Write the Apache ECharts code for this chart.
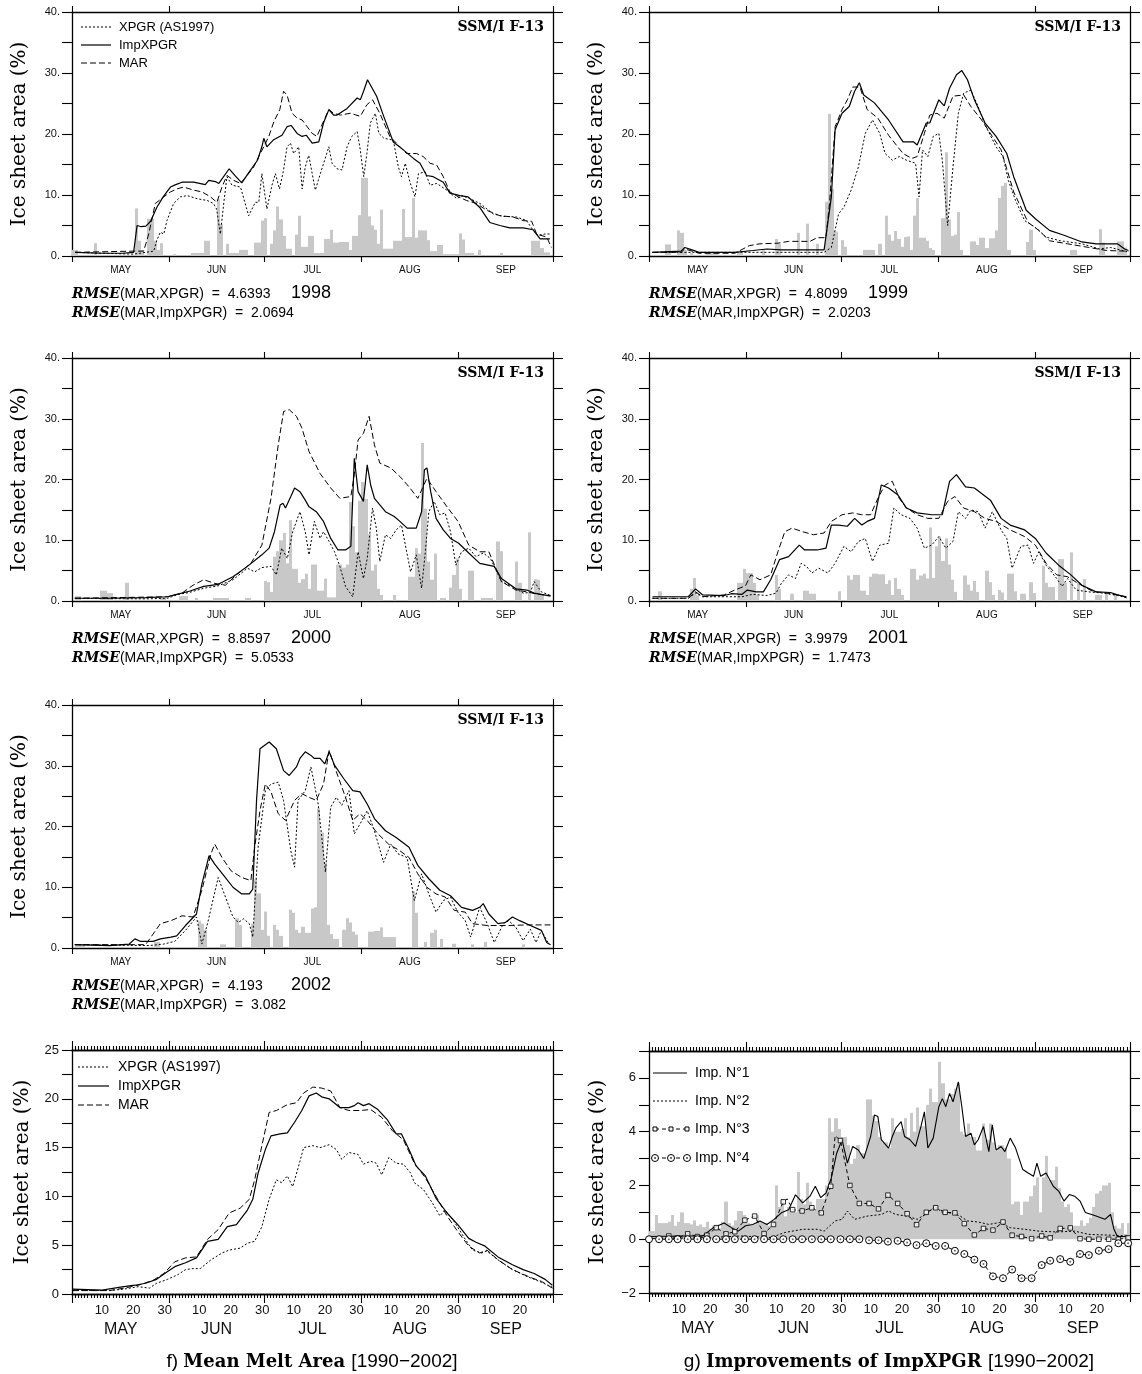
<!DOCTYPE html>
<html>
<head>
<meta charset="utf-8">
<script src="https://cdn.jsdelivr.net/npm/echarts@6/dist/echarts.min.js"></script>
<style>
html, body { margin: 0; padding: 0; background: #fff; }
#main { width: 1142px; height: 1374px; }
</style>
</head>
<body>
<div id="main"></div>
<script>
// day offsets: 0 = 1 May, 153 = 1 Oct
var MONTH_START = [0, 31, 61, 92, 123, 153];
var MONTH_NAMES = ['MAY', 'JUN', 'JUL', 'AUG', 'SEP'];
var DAY_MARKS = [[10, 20, 30], [10, 20, 30], [10, 20, 30], [10, 20, 30], [10, 20]];

// ---- 1998 ----
var imp1998 = [[1,0.6],[9,0.45],[16,0.45],[19.6,0.6],[20.7,5.0],[22,4.8],[23.5,4.9],[25,5.7],[27,8.0],[29,9.7],[31.3,11.3],[33,11.7],[35,12.1],[38.7,12.1],[42.4,11.7],[43.5,12.4],[45.6,12.2],[46.7,11.9],[50,14.3],[52,13.1],[54,12.0],[56,13.5],[59,15.7],[60.4,17.9],[61,19.3],[62,17.9],[64,19.0],[66.8,19.8],[68.4,21.2],[69.7,21.4],[71.6,20.1],[73.2,19.6],[74.5,19.8],[76.4,18.5],[78.5,18.7],[80,21.8],[81.7,24.0],[83.2,23.1],[84.3,23.1],[87.5,24.2],[90.7,25.9],[91.7,25.6],[92.8,27.1],[94,28.9],[96.9,26.2],[99,23.1],[102.2,18.7],[105.4,17.4],[108.6,16.0],[110.7,15.2],[112.8,13.2],[114.9,13.0],[118.1,12.1],[120.2,10.3],[123.4,9.9],[126,9.7],[129.8,7.9],[132.9,5.5],[136.1,5.0],[139.3,4.6],[143.5,4.6],[146.7,4.3],[148.9,2.8],[152,2.8]];
var xpgr1998 = [[1,0.6],[19.6,0.3],[26,0.8],[27,2.6],[28.1,3.9],[29.2,3.6],[30.2,5.8],[32.3,8.6],[34.5,9.7],[36.6,9.9],[39.8,9.4],[43,9.1],[45,8.6],[46,7.7],[47.2,3.6],[48.3,8.8],[49.3,13.0],[50.9,11.6],[53.6,11.3],[56.2,6.6],[58.3,8.8],[59.4,8.8],[60.4,13.5],[62,7.7],[63.6,11.6],[64.7,13.5],[66,11.0],[67.3,14.1],[68.4,17.9],[69.5,18.5],[70.5,16.8],[72.1,17.9],[73.2,11.0],[74.2,14.6],[75.3,16.5],[77.4,10.8],[79,13.5],[81.7,17.9],[82.7,15.2],[84.3,14.3],[85.9,14.1],[87.5,17.9],[89,19.6],[90.7,20.4],[91.7,17.4],[92.8,13.0],[93.8,16.8],[94.9,21.8],[96.5,23.4],[97.6,20.1],[99.2,19.3],[102.2,19.0],[103.8,14.6],[104.8,13.0],[106,15.2],[107.5,12.1],[109.1,9.7],[110.2,13.5],[112.3,13.8],[113.9,11.6],[116,11.9],[119.2,10.8],[122.4,9.4],[124,9.9],[126.6,9.4],[129.8,8.6],[134,6.9],[137.2,6.5],[141.4,6.4],[144.6,5.8],[146.7,4.2],[148.3,3.4],[150.4,3.6],[152,3.6]];
var mar1998 = [[1,0.6],[19.6,0.8],[22.8,0.8],[24.4,3.6],[26.5,8.6],[29.2,9.7],[31.3,10.5],[33.4,11.0],[35.5,11.3],[38.7,10.8],[41.4,10.5],[44,9.7],[46.1,8.8],[47.7,11.3],[49.3,13.2],[51.4,12.4],[53.6,11.9],[55.7,13.2],[57.8,14.6],[59.4,16.3],[61,17.9],[62.6,19.6],[64.2,22.0],[66.1,24.0],[67.3,27.0],[68.4,26.4],[70,23.4],[71.6,22.6],[73.2,22.3],[74.8,21.2],[76.4,20.1],[77.9,19.6],[79.5,21.5],[81.7,24.0],[83.2,23.4],[85.4,23.1],[88.5,23.4],[91.7,22.9],[93.8,24.8],[95.6,25.6],[97.9,23.4],[101.1,19.6],[103.2,18.5],[106.4,16.8],[109.6,16.8],[111.7,16.3],[113.9,15.2],[116,14.9],[118.1,13.0],[120.2,10.5],[122.9,9.7],[125.5,9.1],[128.7,8.6],[131.9,7.5],[136.1,6.6],[140.3,6.4],[143.5,5.8],[146.2,5.7],[147.8,3.6],[151,3.1],[152.5,1.4]];
var diff1998 = [[0,1.0],[1,1.0],[7,2.1],[20,7.8],[21,2.5],[22,1.0],[24,6.1],[25,6.1],[26,2.5],[27,1.0],[28,2.1],[32,0.3],[38,0.5],[39,0.5],[40,0.5],[41,0.5],[42,2.5],[43,2.5],[46,9.3],[47,5.2],[49,2.0],[50,0.5],[51,0.5],[52,0.5],[53,1.0],[54,1.0],[55,1.0],[58,2.2],[59,2.2],[60,5.8],[61,6.2],[63,2.0],[64,4.2],[65,8.1],[66,6.0],[67,3.3],[68,1.2],[69,1.2],[71,3.5],[72,6.6],[73,1.5],[74,1.5],[75,3.3],[76,3.3],[77,0.5],[78,0.5],[79,0.5],[80,2.8],[81,2.8],[82,4.3],[83,2.2],[84,2.2],[85,2.3],[86,2.3],[87,2.3],[88,1.0],[89,3.3],[90,3.3],[91,6.7],[92,12.8],[93,12.8],[94,6.5],[95,5.0],[96,4.3],[97,2.0],[98,7.6],[99,1.2],[100,1.2],[101,1.2],[102,2.5],[103,2.5],[104,2.5],[105,7.7],[106,3.1],[107,3.1],[108,9.5],[109,3.0],[110,4.2],[111,4.2],[112,4.2],[113,2.6],[114,0.8],[115,0.8],[116,1.8],[117,1.8],[118,0.3],[119,0.3],[120,0.3],[121,0.3],[122,0.3],[123,3.7],[124,2.7],[125,0.5],[126,0.5],[127,0.5],[129,1.0],[136,0.5],[146,2.5],[147,2.5],[148,2.5],[149,1.3],[150,0.6],[151,0.6]];

// ---- 1999 ----
var imp1999 = [[1.1,0.6],[10.2,0.8],[11.4,1.4],[13.7,1.0],[15.9,0.6],[27.3,0.6],[33,0.9],[37.5,1.15],[42,1.0],[49,1.0],[55.7,1.0],[58,9.7],[59.2,20.7],[61.4,23.4],[63.7,24.5],[65.4,27.0],[66.9,28.4],[68.3,26.4],[71.7,25.1],[76.2,22.3],[80.8,18.7],[84.2,18.7],[85.3,18.2],[88.2,21.8],[89.3,21.8],[92.2,25.6],[93.9,24.6],[95.6,27.5],[97.8,29.7],[99.5,30.4],[101.3,28.9],[103.5,25.6],[106.9,21.8],[110.4,19.6],[113.8,16.8],[116,13.0],[120,7.5],[122.9,6.1],[127.4,4.2],[132,3.4],[137.7,2.3],[142.2,2.0],[149,2.0],[151.3,1.15],[152.5,0.9]];
var xpgr1999 = [[1.1,0.6],[12.5,0.6],[55.7,0.6],[58,1.4],[60.3,6.9],[62,8.0],[64.3,10.8],[66.6,14.6],[68.8,20.1],[71.1,22.3],[73.4,20.1],[75.1,16.8],[77.4,15.7],[79.6,16.3],[81.9,15.7],[84.8,15.2],[85.9,9.7],[87,17.4],[88.7,16.3],[90.4,19.6],[92.2,20.1],[93.3,15.7],[95,5.0],[96.7,14.6],[98.4,23.4],[100.1,26.7],[102.4,27.2],[104.7,24.5],[106.9,21.5],[110.4,17.9],[112.6,16.3],[114.3,12.4],[116.6,9.1],[119.5,5.8],[122.9,4.7],[126.3,3.1],[130.8,2.5],[137.7,2.0],[143.3,1.15],[146.8,1.4],[151.3,0.8],[152.5,0.7]];
var mar1999 = [[1.1,0.6],[10.2,0.6],[11.4,1.15],[15.9,0.45],[27.3,0.45],[31.9,1.7],[35.3,2.0],[41,2.1],[44.4,2.4],[51.2,2.4],[53.5,3.0],[56.3,3.0],[57.5,9.1],[59.2,21.2],[61.4,24.0],[63.1,25.6],[64.8,27.7],[67.1,27.7],[69.4,24.0],[72.8,22.6],[76.2,19.8],[80.8,16.8],[83.6,16.0],[85.3,16.3],[87.6,20.1],[89.3,23.1],[91.6,23.4],[93.9,22.6],[96.7,26.2],[100.1,26.4],[102.4,24.5],[105.8,22.3],[109.2,19.6],[112,17.4],[116,10.5],[120.6,5.5],[124,4.2],[127.4,2.5],[133.1,2.0],[139.9,1.4],[145.6,0.9],[151.3,0.8],[152.5,0.7]];
var diff1999 = [[5,1.9],[6,1.9],[9,4.2],[10,3.8],[11,1.0],[13,0.5],[18,0.5],[19,0.5],[20,0.5],[21,0.5],[28,0.5],[29,0.5],[36,1.0],[40,2.8],[41,2.0],[47,3.8],[50,5.3],[53,2.0],[56,8.9],[57,23.3],[58,11.0],[59,4.0],[61,2.6],[62,1.5],[68,1.0],[69,1.0],[70,1.0],[71,1.0],[73,2.0],[75,6.6],[76,3.5],[77,2.5],[78,4.1],[79,2.8],[80,1.5],[81,3.1],[82,3.2],[83,1.0],[84,6.6],[85,9.5],[86,3.0],[87,3.0],[88,2.5],[89,1.3],[90,1.0],[93,6.2],[94,17.0],[95,6.0],[96,3.3],[97,3.5],[98,7.2],[99,1.0],[102,2.4],[103,2.4],[104,1.8],[105,3.0],[106,3.0],[107,1.3],[108,2.9],[109,2.9],[110,4.2],[111,9.5],[112,11.5],[113,12.0],[114,1.0],[120,2.3],[121,4.3],[122,1.0],[134,1.0],[135,1.0],[143,4.4],[144,2.2],[149,2.4],[150,2.4],[151,1.4]];

// ---- 2000 ----
var imp2000 = [[0.9,0.45],[11.9,0.45],[23.4,0.55],[30.4,0.7],[32.7,1.0],[37.3,1.6],[41.9,2.4],[46.5,2.75],[51.2,4.0],[55.8,5.7],[60.4,7.6],[62.7,8.7],[64.4,11.4],[66.2,15.8],[67.1,16.1],[67.9,15.3],[69.6,17.2],[70.8,18.6],[72.5,18.0],[74.2,16.6],[75.4,15.5],[77.7,14.7],[80,13.1],[82.3,10.3],[84.6,8.4],[87,8.4],[88.7,9.0],[89.8,23.5],[91,18.0],[92.7,16.4],[93.9,22.4],[95,19.1],[96.2,16.9],[99.7,14.7],[102.5,13.9],[104.3,13.1],[106.6,12.0],[109.5,12.0],[111.2,14.7],[112.1,21.6],[112.9,21.9],[114.1,18.0],[115.8,13.6],[118.1,11.7],[120.4,10.3],[123,9.5],[126.2,7.9],[129.7,6.2],[134.3,5.7],[136.6,3.7],[141.2,2.0],[144.7,1.8],[147,1.3],[149.3,1.1],[152.2,0.8]];
var xpgr2000 = [[0.9,0.45],[23.4,0.35],[30.4,0.45],[33.8,1.1],[37.3,1.4],[41.9,2.1],[46.5,2.5],[51.2,3.5],[55.8,5.4],[58.1,4.8],[60.4,5.5],[63.3,5.7],[65,4.3],[66.7,8.7],[68.5,7.0],[70.2,11.4],[72.5,14.7],[74.2,11.4],[75.4,7.6],[77.1,13.1],[78.9,10.3],[80,11.4],[81.8,9.8],[83.5,8.1],[85.2,5.7],[87,2.4],[89.3,0.7],[91,8.1],[92.7,3.7],[93.9,7.0],[95.6,15.3],[96.8,12.0],[97.9,6.5],[99.7,10.9],[101.4,10.3],[103.1,11.7],[104.8,12.5],[107.7,4.8],[109.5,7.6],[111.2,2.1],[112.4,8.1],[113.5,14.7],[115.2,16.4],[117,14.2],[118.7,14.5],[120.4,11.4],[122.1,5.9],[123.9,8.1],[126.2,8.7],[128.5,7.3],[130.8,7.9],[133.1,7.0],[136.6,3.2],[140,2.4],[143.5,1.3],[145.8,1.4],[147,3.2],[149.3,1.5],[152.2,0.9]];
var mar2000 = [[0.9,0.45],[30.4,0.7],[35,1.3],[38.5,2.6],[41.9,3.5],[45.4,2.9],[48.8,2.6],[52.3,4.3],[56.9,6.2],[60.4,9.2],[63.3,16.9],[65.6,25.7],[67.3,31.2],[69.1,31.5],[71.4,30.4],[73.1,28.5],[75.4,24.6],[78.9,21.0],[82.3,18.6],[85.2,16.9],[88.7,17.2],[89.8,20.8],[91,26.5],[92.7,27.6],[94.5,30.4],[96.2,25.7],[97.9,22.7],[101.4,21.9],[104.3,20.5],[107.2,18.8],[110,16.9],[112.9,20.2],[115.8,18.0],[119.3,15.5],[122.8,13.1],[126.2,9.2],[129.7,8.1],[132.6,8.1],[136.6,3.2],[141.2,1.8],[144.7,1.5],[148.2,1.1],[152.2,0.9]];
var diff2000 = [[1,0.8],[2,0.8],[9,1.7],[10,1.7],[11,1.3],[12,1.3],[17,3.0],[28,0.5],[29,0.5],[34,0.8],[35,0.8],[36,0.8],[39,0.5],[45,0.5],[46,0.5],[47,0.5],[48,0.5],[49,0.5],[55,0.5],[56,0.5],[61,3.3],[62,3.1],[63,1.5],[64,7.3],[65,8.2],[66,10.0],[67,11.2],[68,6.2],[69,13.3],[70,5.3],[71,5.3],[72,3.0],[73,3.6],[74,4.5],[75,2.0],[76,6.0],[77,6.0],[78,1.7],[79,1.7],[80,3.7],[81,0.6],[82,0.6],[83,0.6],[84,6.0],[85,6.0],[86,5.5],[87,6.0],[88,16.3],[89,12.3],[90,8.0],[91,16.5],[92,19.6],[93,16.8],[94,11.0],[95,5.0],[96,6.0],[97,2.0],[98,1.0],[102,1.0],[107,4.0],[108,4.0],[109,8.7],[110,7.8],[111,26.0],[112,15.2],[113,6.5],[114,3.5],[115,7.8],[117,0.5],[118,0.5],[120,2.2],[121,4.3],[122,7.0],[123,2.0],[126,5.0],[127,5.0],[130,0.5],[131,0.5],[132,0.5],[133,0.5],[135,9.8],[136,8.2],[141,6.5],[142,3.0],[145,11.3],[147,3.6],[148,3.5],[149,1.0]];

// ---- 2001 ----
var imp2001 = [[1.1,0.7],[12.5,0.7],[14.8,2.0],[17.1,1.0],[23.9,0.9],[26.2,1.2],[29.6,1.1],[31.3,1.8],[34.1,1.5],[36.4,1.5],[38.7,3.5],[41.5,6.8],[44.4,7.3],[47.8,9.2],[49.5,8.4],[53.5,8.4],[56.3,8.7],[58,12.5],[60.3,12.5],[63.1,12.3],[65.4,13.6],[67.7,12.5],[69.4,13.1],[71.7,13.6],[73.9,19.1],[76.2,18.6],[79.1,17.5],[81.9,15.3],[85.3,14.5],[89.9,14.2],[93.3,14.2],[95.6,19.7],[97.8,20.8],[100.7,18.8],[103.5,18.6],[105.8,17.7],[108.6,16.6],[112,13.6],[114.9,12.5],[119.5,11.7],[122.9,10.3],[126.3,7.9],[130.3,5.9],[134.2,4.3],[137.7,2.6],[142.2,1.5],[146.8,1.4],[149,1.0],[151.9,0.7]];
var xpgr2001 = [[1.1,0.45],[12.5,0.45],[14.8,1.3],[17.1,0.7],[29.6,0.7],[33,1.1],[37.5,0.9],[40.4,1.3],[42.1,2.9],[44.4,4.3],[46.6,3.7],[48.4,6.2],[50.1,5.7],[51.8,4.6],[54,5.4],[56.9,4.6],[59.2,6.2],[62,9.0],[64.3,8.1],[66.6,9.8],[68.8,10.3],[71.1,6.5],[73.4,9.2],[76.2,9.5],[77.9,15.3],[80.2,14.2],[83,13.6],[85.3,12.0],[87.6,8.7],[89.9,9.2],[92.2,10.6],[94.4,8.7],[96.7,9.8],[98.4,14.7],[100.7,13.6],[102.4,15.0],[104.7,14.7],[106.9,12.0],[109.2,14.7],[112,11.7],[113.8,10.3],[115.5,5.4],[118.3,9.0],[120.6,9.2],[122.3,6.2],[124,8.1],[126.3,5.9],[129.7,3.7],[131.4,2.4],[133.1,3.7],[135.9,1.8],[139.9,1.5],[144.5,1.3],[149,0.9],[151.9,0.55]];
var mar2001 = [[1.1,0.45],[12.5,0.45],[14.8,1.5],[17.1,0.7],[23.9,1.0],[27.3,1.8],[30.7,2.5],[32.4,4.3],[35.3,3.5],[38.7,4.3],[41,8.1],[43.2,11.4],[45.5,12.0],[48.9,11.4],[52.3,10.9],[55.7,11.2],[58,13.1],[61.4,14.2],[64.8,14.5],[67.7,14.2],[70.5,14.2],[72.8,16.9],[75.1,19.1],[77.4,19.7],[79.6,16.9],[81.9,15.3],[85.3,14.2],[88.7,13.6],[92.2,13.6],[95,16.4],[97.3,17.2],[100.1,15.3],[103.5,14.7],[106.9,13.6],[110.4,13.1],[114.9,11.7],[119.5,10.6],[122.9,9.2],[126.3,6.2],[129.7,4.3],[133.1,4.0],[136.5,2.9],[141.1,1.6],[145.6,1.3],[150.2,0.9],[151.9,0.5]];
var diff2001 = [[3,1.6],[13,2.0],[14,3.8],[15,1.0],[28,3.0],[29,3.0],[30,5.3],[31,4.6],[32,4.6],[33,3.0],[34,1.0],[40,4.3],[41,2.0],[45,1.2],[49,1.7],[50,1.7],[51,1.2],[52,1.2],[60,1.6],[63,4.2],[64,3.5],[65,4.3],[66,4.3],[67,1.7],[68,1.7],[69,1.0],[70,4.0],[71,4.5],[72,4.5],[73,4.4],[74,4.4],[75,2.8],[76,3.4],[77,1.0],[78,3.8],[79,2.0],[80,1.0],[83,5.3],[84,5.3],[85,3.5],[86,4.2],[87,4.5],[88,3.7],[89,12.1],[90,3.8],[91,9.0],[92,10.6],[93,6.6],[94,10.3],[95,6.0],[96,3.5],[97,1.5],[100,4.2],[101,2.7],[102,1.7],[103,3.3],[104,1.5],[107,5.0],[108,3.1],[109,1.0],[111,1.8],[112,1.4],[114,4.5],[115,4.5],[116,1.6],[118,1.2],[119,1.2],[121,3.1],[122,1.3],[125,5.8],[126,3.0],[127,2.3],[128,2.3],[130,6.9],[131,6.9],[132,3.0],[134,8.0],[136,3.0],[138,3.6],[142,1.0],[143,1.0],[145,1.3],[148,1.0]];

// ---- 2002 ----
var imp2002 = [[0.9,0.55],[11.9,0.4],[18.2,0.65],[20,1.5],[21.7,1.1],[25.8,1.1],[28.1,1.5],[31.5,1.8],[33.3,2.0],[36.1,3.7],[39.6,5.6],[41.3,10.5],[43.6,15.2],[45.4,13.8],[48.3,11.9],[51.2,10.0],[54,8.9],[56.4,8.9],[57.5,9.7],[58.7,24.3],[59.8,32.8],[62.7,33.9],[65,32.8],[67.3,29.2],[69.1,28.4],[71.4,29.8],[72.5,31.2],[74.2,32.3],[76,31.7],[77.1,31.2],[78.9,31.2],[80.4,30.3],[81.8,32.3],[83.5,30.1],[86.4,27.9],[89.3,25.9],[91.6,25.7],[93.9,23.7],[96.2,21.3],[99.7,19.3],[103.1,18.2],[107.2,16.6],[110,13.6],[113.5,11.4],[117,9.5],[120.4,8.6],[123.9,6.7],[127.4,6.2],[129.7,6.7],[130.8,7.3],[132.6,5.6],[135.5,4.0],[137.8,4.2],[140.1,5.1],[142.4,4.5],[145.8,3.7],[149.3,2.9],[151,0.9],[152.2,0.55]];
var xpgr2002 = [[0.9,0.55],[24.6,0.4],[29.2,0.65],[32.7,1.1],[36.1,2.9],[39.6,5.1],[41.3,0.65],[43.1,4.0],[46.5,11.6],[48.8,8.4],[51.2,5.1],[52.9,4.2],[54.6,4.8],[56.4,4.0],[57.5,1.8],[59.2,16.6],[61.5,25.9],[63.3,27.0],[65.6,27.3],[67.3,24.3],[69.6,16.0],[70.8,13.3],[71.9,24.3],[74.2,25.9],[76,29.8],[77.1,27.0],[78.3,23.7],[79.4,18.5],[80.6,12.5],[82.3,23.2],[84.1,24.8],[85.8,23.5],[88.1,25.9],[89.8,18.8],[91.6,20.4],[93.9,22.6],[96.2,19.3],[99.1,14.1],[101.4,17.1],[103.7,15.5],[106.6,14.9],[108.9,7.8],[111.2,12.2],[113.5,8.9],[115.8,5.9],[118.1,7.8],[120.4,8.4],[122.7,5.9],[125.1,4.5],[126.8,1.8],[129.7,6.7],[132.1,4.0],[134.3,0.9],[137.2,4.0],[138.9,4.5],[141.2,3.4],[143.5,1.2],[145.8,3.1],[147.6,0.9],[149.3,2.9],[151.4,0.9]];
var mar2002 = [[0.9,0.55],[23.4,0.55],[25.8,2.3],[28.1,4.0],[31.5,4.5],[35,5.3],[38.5,5.1],[41.3,9.5],[44.2,15.5],[45.4,17.1],[47.7,14.9],[50.6,12.7],[54,11.6],[56.9,11.1],[58.1,16.6],[59.8,22.6],[61.5,27.0],[63.3,25.7],[65.6,22.1],[67.9,21.0],[70.8,24.3],[73.1,25.4],[75.4,24.8],[77.7,24.3],[80,27.0],[81.8,32.5],[84.1,29.0],[87,24.8],[89.3,21.0],[91.6,22.1],[93.9,21.0],[97.3,18.8],[100.7,17.1],[104.3,16.0],[107.2,14.9],[110,12.2],[112.9,10.0],[115.8,8.9],[118.7,8.4],[121.6,6.2],[125.1,5.9],[127.4,4.0],[132.1,3.7],[138.9,3.7],[144.7,3.8],[152.2,3.8]];
var diff2002 = [[1,0.6],[2,0.6],[3,0.6],[26,1.0],[27,1.0],[40,4.5],[41,4.0],[42,3.0],[47,0.6],[48,0.6],[52,4.9],[53,3.8],[57,4.0],[58,11.3],[59,9.0],[60,3.0],[61,6.0],[62,2.0],[64,3.8],[65,3.0],[66,2.0],[69,6.3],[70,5.8],[71,3.0],[72,2.5],[73,3.5],[74,2.5],[75,2.5],[76,6.5],[77,6.7],[78,23.0],[79,19.0],[80,14.0],[81,3.8],[82,2.3],[83,1.5],[84,1.5],[86,3.0],[87,4.9],[88,4.2],[89,2.7],[90,2.2],[94,2.7],[95,2.7],[96,2.8],[97,2.8],[98,3.4],[99,1.8],[100,1.8],[101,1.8],[102,1.8],[108,9.3],[109,5.8],[112,1.0],[114,2.5],[115,3.0],[117,1.5],[121,0.7],[127,0.6],[131,1.0],[143,0.6]];

// ---- f) mean 1990-2002 ----
var impMean = [[0.3,0.5],[9.6,0.4],[15.4,0.7],[20,0.9],[23.4,1.1],[26.9,1.5],[30.4,2.3],[32.7,2.8],[36.1,3.2],[39.6,3.7],[43.1,5.4],[46.5,5.6],[49.4,6.9],[52.3,7.1],[55.8,8.6],[57.5,9.7],[59.2,12.4],[61.5,14.8],[63.3,16.2],[66.2,16.4],[68.5,16.5],[70.8,17.6],[73.1,18.8],[75.4,20.3],[77.7,20.6],[79.4,20.2],[81.8,20.0],[85.2,19.1],[88.1,19.1],[89.8,19.3],[91,19.6],[92.7,19.3],[94.5,19.5],[97.3,18.9],[100.2,17.9],[103.1,16.4],[104.8,16.4],[107.2,14.8],[109.5,13.1],[112.4,12.1],[115.8,9.8],[119.3,8.3],[122.7,7.1],[126.2,5.7],[128.5,5.3],[131.4,4.9],[135.5,3.8],[140.1,3.0],[143.5,2.5],[147,2.1],[150.5,1.5],[152.8,0.9]];
var xpgrMean = [[0.3,0.4],[11.9,0.35],[16.5,0.5],[21.1,0.75],[24.6,0.6],[26.9,1.1],[30.4,1.5],[33.8,2.0],[36.1,2.5],[38.5,2.6],[40.8,2.6],[44.2,3.5],[47.7,4.2],[50,4.5],[53.5,4.7],[55.8,5.2],[58.1,5.4],[60.4,6.9],[62.7,9.7],[65,11.7],[66.7,11.4],[68.5,12.1],[70.2,11.0],[71.9,12.9],[73.7,15.0],[76.6,15.2],[78.9,15.0],[81.8,15.3],[84.1,14.8],[85.8,13.8],[88.1,14.5],[91,14.3],[92.7,13.3],[95,13.6],[96.8,13.4],[98.5,12.2],[100.8,14.0],[103.1,13.4],[105.4,13.3],[107.7,12.4],[108.9,11.4],[111.8,10.7],[114.7,9.3],[117,8.0],[118.7,8.6],[121.6,7.4],[125.1,5.6],[127.4,4.5],[130.3,4.2],[132,4.4],[135.5,3.5],[140.1,2.5],[144.7,1.8],[149.3,1.2],[152.8,0.7]];
var marMean = [[0.3,0.35],[11.9,0.35],[16.5,0.6],[21.1,0.9],[25.8,1.4],[29.2,2.1],[32.7,3.3],[36.1,3.7],[39.6,3.8],[43.1,5.6],[46.5,6.6],[50,8.3],[53.5,8.8],[56.4,9.7],[58.1,11.7],[60.4,15.2],[62.7,18.6],[65,18.8],[68.5,19.4],[71.4,19.6],[73.7,20.6],[76.6,21.2],[79.4,21.1],[82.3,20.8],[85.2,19.1],[88.1,18.8],[91.6,18.8],[95,18.9],[98.5,18.1],[102,16.7],[105.4,15.8],[108.9,13.4],[112.4,11.9],[115.8,10.0],[119.3,8.0],[122.7,6.4],[126.2,4.9],[129.7,4.2],[132,4.5],[135.5,3.5],[140.1,2.5],[145.8,1.7],[149.3,1.3],[152.8,0.6]];

// ---- g) improvements 1990-2002 ----
var impDiffMean = [0.3,0.3,0.9,0.6,0.6,0.6,0.65,0.9,0.5,0.65,1.0,0.6,0.6,0.55,0.7,0.5,0.55,0.45,0.65,0.4,0.5,0.5,0.4,0.65,1.4,0.6,0.5,0.7,1.05,1.05,0.9,0.6,0.55,0.55,0.9,0.65,0.6,0.6,0.5,0.7,2.0,1.2,1.5,0.85,1.2,1.0,1.0,2.5,1.5,1.3,2.1,1.4,1.1,1.5,1.5,1.5,2.0,4.5,4.0,4.5,4.1,3.8,3.8,3.5,2.8,3.0,3.5,3.2,3.2,5.2,5.2,4.6,4.4,3.8,3.6,3.6,3.4,4.5,4.0,4.0,4.1,4.5,3.8,4.7,4.0,4.9,4.2,4.2,5.0,5.6,5.1,5.1,6.6,5.8,5.2,5.2,5.4,5.6,5.8,4.0,3.9,4.3,3.8,3.8,3.3,3.3,4.3,3.7,4.3,3.6,3.3,3.5,3.5,3.4,3.0,1.3,1.4,1.4,0.9,1.4,1.4,1.6,2.0,2.3,1.0,2.3,3.1,2.2,2.2,2.7,1.9,1.4,1.2,1.3,1.0,0.5,0.5,0.7,0.5,0.6,0.8,1.2,1.7,1.8,2.0,2.0,2.1,1.0,0.5,0.4,0.6,0.2,0.6];
var imp1 = [[0,0.1],[10.2,0.12],[17.1,0.12],[20.5,0.43],[23.9,0.6],[26.2,0.43],[28.4,0.3],[30.7,0.5],[33,0.55],[35.3,0.68],[37.5,0.55],[39.8,0.74],[42.1,0.98],[44.4,1.1],[46.6,1.65],[48.9,1.35],[51.2,1.6],[52.9,1.97],[54.6,1.55],[56.3,1.72],[58,2.28],[59.7,3.2],[61.4,3.7],[63.1,2.83],[64.8,3.45],[66.6,3.32],[68.3,3.0],[70.5,3.82],[71.7,4.62],[72.8,4.56],[73.9,3.7],[76.2,3.39],[77.4,3.82],[78.5,4.13],[80.2,4.37],[81.3,3.82],[83,3.7],[84.8,3.45],[86.5,4.19],[87.6,4.74],[88.7,3.39],[90.4,3.76],[92.2,4.93],[93.3,5.23],[94.4,4.93],[95.6,5.42],[96.7,5.11],[98.4,5.85],[99.5,4.93],[100.7,3.82],[102.4,3.94],[103.5,3.51],[104.7,3.7],[106.4,4.19],[108.1,3.26],[109.2,4.25],[110.4,3.32],[112,3.45],[113.2,3.26],[114.9,3.76],[116.6,3.39],[118.9,2.59],[120.6,2.46],[122.3,2.34],[123.4,2.83],[124.6,2.34],[126.3,2.46],[128.6,1.97],[130.3,1.79],[132,1.42],[133.7,1.66],[135.4,1.6],[137.1,1.42],[138.8,0.99],[142.2,0.86],[145,0.74],[146.8,0.92],[147.9,0.37],[149,0.1],[152.5,0.1]];
var imp2 = [[0,0.02],[18.2,0.06],[29.6,0.12],[38.7,0.06],[43.2,0.25],[48.9,0.37],[53.5,0.37],[55.7,0.3],[59.2,0.68],[61.4,0.74],[63.1,1.05],[65.4,0.74],[69.4,0.86],[73.9,0.92],[76.2,1.05],[78.5,0.92],[81.9,0.86],[85.3,0.74],[88.7,0.98],[91,1.23],[93.3,0.98],[96.7,0.98],[99,0.86],[101.3,0.68],[104.7,0.64],[108.1,0.55],[111.5,0.62],[114.9,0.43],[119.5,0.37],[124,0.3],[129.7,0.27],[135.4,0.3],[139.9,0.18],[146.8,0.15],[152.4,0.12]];
var imp3 = [[3.2,0.0],[6.3,0.12],[9.1,0.05],[12.3,0.2],[15.4,0.1],[18.4,0.15],[21.4,0.43],[24.5,0.2],[27.3,0.28],[30.5,0.71],[33.6,0.86],[36.6,0.21],[39.6,0.55],[42.7,1.39],[45.7,1.1],[48.7,1.05],[51.8,1.17],[54.8,0.98],[57.8,1.97],[60.9,3.67],[63.9,2.0],[66.9,1.33],[70,1.33],[73,1.13],[76,1.64],[79.1,1.33],[82.1,0.95],[85.1,0.54],[88.2,1.0],[91.2,1.17],[94.2,1.0],[97.3,0.98],[100.3,0.58],[103.5,0.16],[106.4,0.4],[109.4,0.34],[112.6,0.64],[115.5,0.15],[118.5,0.1],[121.7,0.02],[124.9,0.12],[127.6,0.05],[130.8,0.4],[134,0.42],[137.1,0.02],[139.9,0.0],[143.1,0.0],[146.2,0.0],[149.3,0.0],[152.4,0.05]];
var imp3Peaks = [[44,1.5],[59.2,3.85]];
var imp4 = [[3.2,0],[6.3,0],[9.1,0],[12.3,0],[15.4,0],[18.4,0],[21.4,0],[24.5,0],[27.3,0],[30.5,0],[33.6,0],[36.6,0],[39.6,0],[42.7,0],[45.7,0],[48.7,0],[51.8,0],[54.8,0],[57.8,0],[60.9,0],[63.9,0],[66.9,0],[70,-0.04],[73,-0.04],[76,-0.09],[79.1,-0.06],[82.1,-0.12],[85.1,-0.22],[88.2,-0.15],[91.2,-0.25],[94.2,-0.25],[97.3,-0.43],[100.3,-0.55],[103.5,-0.76],[106.4,-0.92],[109.4,-1.38],[112.6,-1.45],[115.5,-1.13],[118.5,-1.45],[121.7,-1.45],[124.9,-0.96],[127.6,-0.8],[130.8,-0.74],[134,-0.84],[137.1,-0.55],[139.9,-0.59],[143.1,-0.43],[146.2,-0.37],[149.3,-0.15],[152.4,-0.15]];

var SANS = '"Liberation Sans", Arial, sans-serif';
var SERIF = '"DejaVu Serif", serif';
var BAR_GREY = '#c8c8c8';
var DOTTED = [2, 2];
var DASHED = [6, 3];

var MID = [];
for( var m = 0; m < 5; m++ ){
	MID.push( (MONTH_START[m] + MONTH_START[m + 1]) / 2 );
}
var monthName = function(v){
	for( var k = 0; k < 5; k++ ){
		if( Math.abs( v - MID[k] ) < 0.01 ) return MONTH_NAMES[k];
	}
	return '';
};
// positions of the 10 / 20 / 30 day labels
var dayLabelPos = [], dayLabelText = {};
for( m = 0; m < 5; m++ ){
	for( var j = 0; j < DAY_MARKS[m].length; j++ ){
		var pos = MONTH_START[m] + DAY_MARKS[m][j] - 0.5;
		dayLabelPos.push( pos );
		dayLabelText[Math.round( pos * 2 )] = String( DAY_MARKS[m][j] );
	}
}

var grids = [], xAxes = [], yAxes = [], series = [], graphics = [];
var AXIS_LINE = {show:true, onZero:false, lineStyle:{color:'#000', width:1.3}};

var addGrid = function(left, top, height){
	grids.push( {left:left, top:top, width:481, height:height, outerBoundsMode:'none', containLabel:false} );
	return grids.length - 1;
};

var xAxis = function(gi, position, tick, label){
	var ax = {
		type:'value', gridIndex:gi, position:position, min:0, max:153,
		axisLine:AXIS_LINE,
		axisTick:{show:true, length:tick.length, lineStyle:{color:'#000', width:1.1}},
		axisLabel:{show:false},
		splitLine:{show:false}
	};
	if( tick.custom ) ax.axisTick.customValues = tick.custom;
	else ax.interval = 1;
	if( label ) ax.axisLabel = label;
	xAxes.push( ax );
	return xAxes.length - 1;
};

var yAxis = function(gi, position, min, max, interval, label){
	yAxes.push( {
		type:'value', gridIndex:gi, position:position, min:min, max:max, interval:interval,
		axisLine:AXIS_LINE,
		axisTick:{show:true, length:10, lineStyle:{color:'#000', width:1.1}},
		axisLabel:label || {show:false},
		splitLine:{show:false}
	} );
	return yAxes.length - 1;
};

var lineSeries = function(xi, yi, data, dash, width, z){
	return {
		type:'line', xAxisIndex:xi, yAxisIndex:yi, data:data, symbol:'none', silent:true,
		animation:false, z:z || 3,
		lineStyle:{color:'#000', width:width || 1, type:dash || 'solid'}
	};
};

// one grey block per day, from the start of the day to the start of the next;
// edges are snapped to whole pixels so neighbouring days join without seams
var barSeries = function(xi, yi, data){
	return {
		type:'custom', xAxisIndex:xi, yAxisIndex:yi, data:data, silent:true, animation:false, z:1,
		renderItem:function(params, api){
			var day = api.value( 0 );
			var p0 = api.coord( [day, 0] );
			var p1 = api.coord( [day + 1, api.value( 1 )] );
			var x0 = Math.round( p0[0] ), x1 = Math.round( p1[0] );
			return {type:'rect', shape:{x:x0, y:p1[1], width:x1 - x0, height:p0[1] - p1[1]},
				style:{fill:BAR_GREY}};
		}
	};
};

var text = function(x, y, str, font, align, extra){
	var el = {type:'text', x:x, y:y, silent:true, style:{text:str, font:font, fill:'#000',
		textAlign:align || 'left', textVerticalAlign:'middle'}};
	if( extra ) for( var k in extra ) el.style[k] = extra[k];
	return el;
};

var yName = function(x, y){
	var el = text( x, y, 'Ice sheet area (%)', '20px ' + SERIF, 'center' );
	el.rotation = Math.PI / 2;
	return el;
};

var legendLine = function(x1, x2, y, dash, width){
	return {type:'line', silent:true, shape:{x1:x1, y1:y, x2:x2, y2:y},
		style:{stroke:'#000', lineWidth:width || 1, lineDash:dash || null}};
};

// ---------- yearly panels ----------
var yearPanels = [
	{left:72, top:12, height:244, year:'1998', rmse:['4.6393', '2.0694'], imp:imp1998, xpgr:xpgr1998, mar:mar1998, diff:diff1998, legend:true},
	{left:649, top:12, height:244, year:'1999', rmse:['4.8099', '2.0203'], imp:imp1999, xpgr:xpgr1999, mar:mar1999, diff:diff1999},
	{left:72, top:358, height:243, year:'2000', rmse:['8.8597', '5.0533'], imp:imp2000, xpgr:xpgr2000, mar:mar2000, diff:diff2000},
	{left:649, top:358, height:243, year:'2001', rmse:['3.9979', '1.7473'], imp:imp2001, xpgr:xpgr2001, mar:mar2001, diff:diff2001},
	{left:72, top:705, height:243, year:'2002', rmse:['4.193', '3.082'], imp:imp2002, xpgr:xpgr2002, mar:mar2002, diff:diff2002}
];

var rmseRich = {
	i:{fontFamily:SERIF, fontStyle:'italic', fontWeight:'bold', fontSize:14, fill:'#000'},
	n:{fontFamily:SANS, fontSize:14, fill:'#000'}
};

yearPanels.forEach( function(p){
	var gi = addGrid( p.left, p.top, p.height );
	var xi = xAxis( gi, 'bottom', {custom:MONTH_START, length:6}, {
		show:true, customValues:MID, formatter:monthName, fontSize:10, fontFamily:SANS, color:'#111', margin:9
	} );
	xAxis( gi, 'top', {custom:MONTH_START, length:6} );
	var yi = yAxis( gi, 'left', 0, 40, 5, {
		show:true, fontSize:11, fontFamily:SANS, color:'#111', margin:12,
		formatter:function(v){ return v % 10 === 0 ? v + '.' : ''; }
	} );
	yAxis( gi, 'right', 0, 40, 5 );

	series.push( barSeries( xi, yi, p.diff ) );
	series.push( lineSeries( xi, yi, p.xpgr, DOTTED, 1 ) );
	series.push( lineSeries( xi, yi, p.mar, DASHED, 1 ) );
	series.push( lineSeries( xi, yi, p.imp, 'solid', 1.2, 4 ) );

	var bottom = p.top + p.height;
	graphics.push( yName( p.left - 52, p.top + p.height / 2 ) );
	graphics.push( text( p.left + 472, p.top + 15, 'SSM/I F-13', 'bold 14px ' + SERIF, 'right' ) );
	graphics.push( text( p.left, bottom + 38, '{i|RMSE}{n|(MAR,XPGR)  =  ' + p.rmse[0] + '}', '14px ' + SANS, 'left', {rich:rmseRich} ) );
	graphics.push( text( p.left, bottom + 57, '{i|RMSE}{n|(MAR,ImpXPGR)  =  ' + p.rmse[1] + '}', '14px ' + SANS, 'left', {rich:rmseRich} ) );
	graphics.push( text( p.left + 239, bottom + 37, p.year, '18px ' + SANS, 'center' ) );

	if( p.legend ){
		var ly = [p.top + 15, p.top + 33, p.top + 51];
		graphics.push( legendLine( p.left + 9, p.left + 39, ly[0], DOTTED ) );
		graphics.push( legendLine( p.left + 9, p.left + 39, ly[1], null, 1.2 ) );
		graphics.push( legendLine( p.left + 9, p.left + 39, ly[2], DASHED ) );
		graphics.push( text( p.left + 47, ly[0], 'XPGR (AS1997)', '13px ' + SANS ) );
		graphics.push( text( p.left + 47, ly[1], 'ImpXPGR', '13px ' + SANS ) );
		graphics.push( text( p.left + 47, ly[2], 'MAR', '13px ' + SANS ) );
	}
} );

// ---------- f) and g) panels: daily ticks + month ticks ----------
var dailyPanel = function(left, top, height, ymin, ymax, interval, fmt){
	var gi = addGrid( left, top, height );
	var xi = xAxis( gi, 'bottom', {length:4}, {
		show:true, customValues:dayLabelPos, fontSize:13, fontFamily:SANS, color:'#111', margin:10,
		formatter:function(v){ return dayLabelText[Math.round( v * 2 )] || ''; }
	} );
	xAxis( gi, 'bottom', {custom:MONTH_START, length:9}, {
		show:true, customValues:MID, formatter:monthName, fontSize:16, fontFamily:SANS, color:'#111', margin:28
	} );
	xAxis( gi, 'top', {length:4} );
	xAxis( gi, 'top', {custom:MONTH_START, length:9} );
	var yi = yAxis( gi, 'left', ymin, ymax, interval, {
		show:true, fontSize:13, fontFamily:SANS, color:'#111', margin:13, formatter:fmt
	} );
	yAxis( gi, 'right', ymin, ymax, interval );
	return {xi:xi, yi:yi};
};

// f) mean melt area
var f = dailyPanel( 72, 1050, 244, 0, 25, 2.5, function(v){ return v % 5 === 0 ? String( v ) : ''; } );
series.push( lineSeries( f.xi, f.yi, xpgrMean, DOTTED, 1 ) );
series.push( lineSeries( f.xi, f.yi, marMean, DASHED, 1 ) );
series.push( lineSeries( f.xi, f.yi, impMean, 'solid', 1.2, 4 ) );
graphics.push( yName( 23, 1050 + 122 ) );
[1067, 1086, 1105].forEach( function(y, i){
	graphics.push( legendLine( 78, 109, y, [DOTTED, null, DASHED][i], i === 1 ? 1.2 : 1 ) );
	graphics.push( text( 118, y, ['XPGR (AS1997)', 'ImpXPGR', 'MAR'][i], '14px ' + SANS ) );
} );
graphics.push( text( 312, 1362, '{n|f) }{b|Mean Melt Area }{n|[1990\u22122002]}', '19px ' + SANS, 'center', {rich:{
	n:{fontFamily:SANS, fontSize:19, fill:'#000'},
	b:{fontFamily:SERIF, fontWeight:'bold', fontSize:18, fill:'#000'}
}} ) );

// g) improvements of ImpXPGR
var g = dailyPanel( 649, 1051, 242, -2, 7, 1, function(v){
	if( v % 2 !== 0 ) return '';
	return v < 0 ? '\u2212' + (-v) : String( v );
} );
series.push( barSeries( g.xi, g.yi, impDiffMean.map( function(v, d){ return [d, v]; } ) ) );
series.push( lineSeries( g.xi, g.yi, imp2, DOTTED, 1 ) );
series.push( lineSeries( g.xi, g.yi, imp3.concat( imp3Peaks ).sort( function(a, b){ return a[0] - b[0]; } ), [4, 3], 1 ) );
series.push( {
	type:'scatter', xAxisIndex:g.xi, yAxisIndex:g.yi, data:imp3, symbol:'rect', symbolSize:4.5,
	silent:true, animation:false, z:5, itemStyle:{color:'#fff', borderColor:'#000', borderWidth:1}
} );
series.push( lineSeries( g.xi, g.yi, imp1, 'solid', 1.1, 4 ) );
series.push( {
	type:'line', xAxisIndex:g.xi, yAxisIndex:g.yi, data:[[0, 0]].concat( imp4 ), symbol:'circle', symbolSize:7,
	showAllSymbol:true, silent:true, animation:false, z:5,
	lineStyle:{color:'#000', width:1, type:[4, 3]},
	itemStyle:{color:'#fff', borderColor:'#000', borderWidth:1}
} );
series.push( {
	type:'scatter', xAxisIndex:g.xi, yAxisIndex:g.yi, data:imp4, symbol:'circle', symbolSize:2,
	silent:true, animation:false, z:6, itemStyle:{color:'#444'}
} );
graphics.push( yName( 598, 1051 + 121 ) );
var gLegendY = [1073, 1101, 1129, 1158];
graphics.push( legendLine( 653, 687, gLegendY[0], null, 1.1 ) );
graphics.push( legendLine( 653, 687, gLegendY[1], DOTTED ) );
graphics.push( legendLine( 655, 687, gLegendY[2], [4, 3] ) );
graphics.push( legendLine( 655, 687, gLegendY[3], [4, 3] ) );
[655, 671, 687].forEach( function(x){
	graphics.push( {type:'rect', silent:true, shape:{x:x - 2, y:gLegendY[2] - 2, width:4, height:4},
		style:{fill:'#fff', stroke:'#000', lineWidth:1}} );
	graphics.push( {type:'circle', silent:true, shape:{cx:x, cy:gLegendY[3], r:3.5},
		style:{fill:'#fff', stroke:'#000', lineWidth:1}} );
	graphics.push( {type:'circle', silent:true, shape:{cx:x, cy:gLegendY[3], r:1}, style:{fill:'#444'}} );
} );
gLegendY.forEach( function(y, i){
	graphics.push( text( 695, y, 'Imp. N\u00b0' + (i + 1), '14px ' + SANS ) );
} );
graphics.push( text( 889, 1362, '{n|g) }{b|Improvements of ImpXPGR }{n|[1990\u22122002]}', '19px ' + SANS, 'center', {rich:{
	n:{fontFamily:SANS, fontSize:19, fill:'#000'},
	b:{fontFamily:SERIF, fontWeight:'bold', fontSize:18, fill:'#000'}
}} ) );

var chart = echarts.init( document.getElementById( 'main' ), null, {renderer:'canvas'} );
chart.setOption( {
	backgroundColor:'#fff',
	animation:false,
	grid:grids,
	xAxis:xAxes,
	yAxis:yAxes,
	series:series,
	graphic:{elements:graphics}
} );
</script>
</body>
</html>
